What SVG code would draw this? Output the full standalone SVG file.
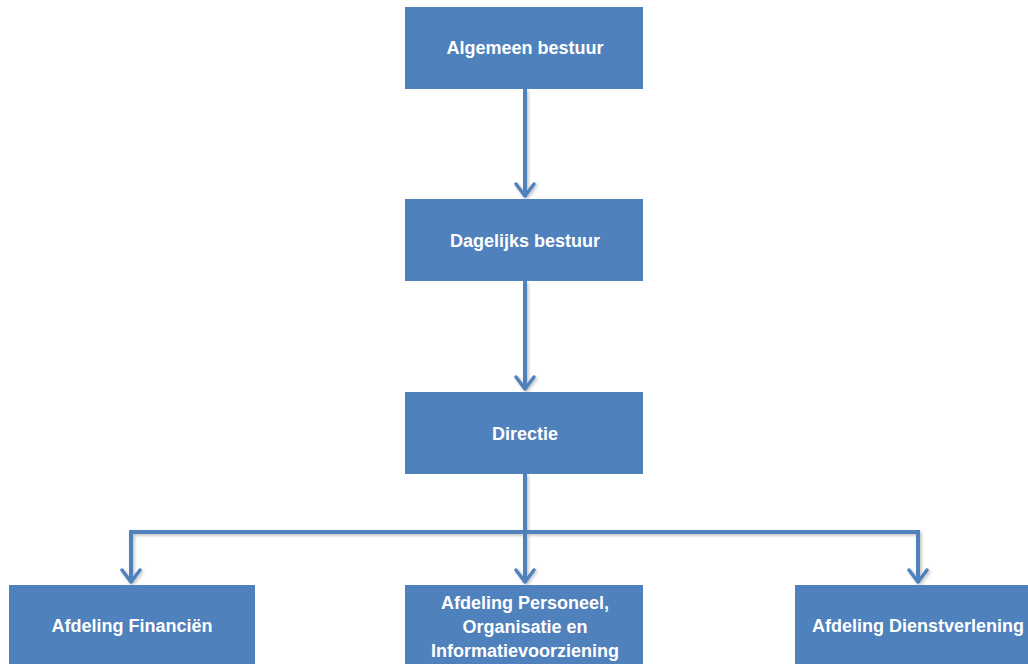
<svg xmlns="http://www.w3.org/2000/svg" width="1028" height="664" viewBox="0 0 1028 664">
<style>
.box{fill:#4F81BD;}
.lbl{fill:#FFFFFF;font-family:"Liberation Sans",Arial,sans-serif;font-weight:bold;font-size:18px;text-anchor:middle;dominant-baseline:central;}
.conn{fill:none;stroke:#4F81BD;stroke-width:4;stroke-linejoin:miter;}
.head{fill:none;stroke:#4F81BD;stroke-width:3.5;stroke-linecap:round;stroke-linejoin:round;}
</style>
<defs>
<filter id="sh" x="-10%" y="-10%" width="130%" height="130%">
<feDropShadow dx="1.5" dy="1.5" stdDeviation="1.5" flood-color="#000" flood-opacity="0.25"/>
</filter>
</defs>
<rect width="1028" height="664" fill="#FFFFFF"/>
<g id="connectors" filter="url(#sh)">
<path class="conn" d="M525 89 V197"/>
<path class="head" d="M516 184 L525 196 L534 184"/>
<path class="conn" d="M525 281 V390"/>
<path class="head" d="M516 377 L525 389 L534 377"/>
<path class="conn" d="M525 474 V583"/>
<path class="head" d="M516 570 L525 582 L534 570"/>
<path class="conn" d="M131 583 V532 H918 V583"/>
<path class="head" d="M122 570 L131 582 L140 570"/>
<path class="head" d="M909 570 L918 582 L927 570"/>
</g>
<g id="n1"><rect class="box" x="405" y="7" width="238" height="82"/><text class="lbl" x="525" y="48">Algemeen bestuur</text></g>
<g id="n2"><rect class="box" x="405" y="199" width="238" height="82"/><text class="lbl" x="525" y="241">Dagelijks bestuur</text></g>
<g id="n3"><rect class="box" x="405" y="392" width="238" height="82"/><text class="lbl" x="525" y="434">Directie</text></g>
<g id="n4"><rect class="box" x="9" y="585" width="246" height="82"/><text class="lbl" x="132" y="626">Afdeling Financiën</text></g>
<g id="n5"><rect class="box" x="405" y="585" width="238" height="82"/><text class="lbl" x="525" y="603">Afdeling Personeel,</text><text class="lbl" x="525" y="627">Organisatie en</text><text class="lbl" x="525" y="651">Informatievoorziening</text></g>
<g id="n6"><rect class="box" x="795" y="585" width="240" height="82"/><text class="lbl" x="918" y="626">Afdeling Dienstverlening</text></g>
</svg>
